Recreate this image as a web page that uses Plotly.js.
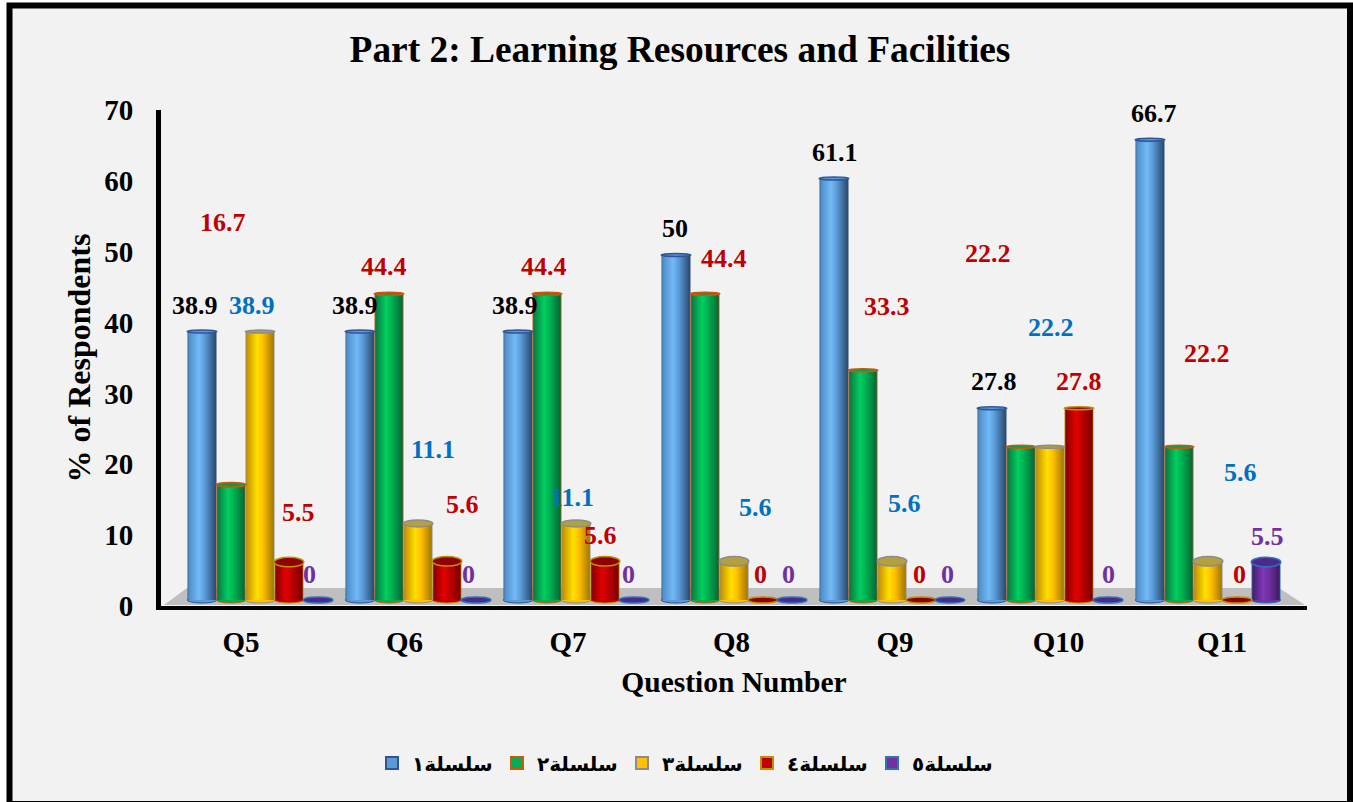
<!DOCTYPE html>
<html><head><meta charset="utf-8">
<script src="https://cdn.plot.ly/plotly-3.0.1.min.js"></script>
<style>html,body{margin:0;padding:0;background:#fff;overflow:hidden}#chart{width:1353px;height:802px}</style>
</head><body><div id="chart"></div>
<script>
// ---------- data ----------
const questions = ['Q5','Q6','Q7','Q8','Q9','Q10','Q11'];
const seriesNames = ['سلسلة١','سلسلة٢','سلسلة٣','سلسلة٤','سلسلة٥'];
const series1 = [38.9,38.9,38.9,50,61.1,27.8,66.7];
const series2 = [16.7,44.4,44.4,44.4,33.3,22.2,22.2];
const series3 = [38.9,11.1,11.1,5.6,5.6,22.2,5.6];
const series4 = [5.5,5.6,5.6,0,0,27.8,0];
const series5 = [0,0,0,0,0,0,5.5];
const yTicks = [0,10,20,30,40,50,60,70];
// hand-placed data-label centres as they sit in the picture (pixels)
const labelX1 = [195,355,515,675,835,994,1154], labelY1 = [305,305,305,228,152,381,113];
const labelX2 = [223,384,544,724,887,988,1207], labelY2 = [222,266,266,258,306,254,353];
const labelX3 = [252,433,572,755,904,1051,1240], labelY3 = [305,449,497,507,503,327,472];
const labelX4 = [298,462,600,760,919,1079,1239], labelY4 = [512,504,535,574,574,381,574];
const labelX5 = [309,468,628,788,947,1108,1267], labelY5 = [574,574,574,574,574,574,536];

// ---------- style ----------
const W=1353,H=802,L=161,R=1307,T=110,B=606;
const serif='"Liberation Serif","Times New Roman",serif';
const allSeries=[series1,series2,series3,series4,series5];
const labelXs=[labelX1,labelX2,labelX3,labelX4,labelX5], labelYs=[labelY1,labelY2,labelY3,labelY4,labelY5];
const labelColors=['#000000','#c00000','#0070c0','#c00000','#7030a0'];
const fills=['#5b9bd5','#00b050','#ffc000','#c00000','#7030a0'];
const borders=['#2f5597','#c55a11','#8c8c8c','#bf9000','#2e75b6'];
const capFills=['#5b9bd5','#00a04a','#b3a040','#8f0000','#4a2a90'];
const gradients=[
 ['#2f5f90','#4f8fc8','#72baf8','#5a9ad6','#2c5077','#2a4a70'],
 ['#c55a11','#0a7a40','#00d060','#00b050','#056b38','#c55a11'],
 ['#8c8c8c','#c79200','#ffe000','#ffc000','#a87c00','#8c8c8c'],
 ['#bf9000','#8a0000','#e60000','#c00000','#7c0000','#bf9000'],
 ['#2e75b6','#44206e','#8038b8','#7030a0','#3f1c66','#2e75b6']];
const stopAt=[0,0.05,0.4,0.6,0.95,1];
const GROUP=0.918, PITCH=GROUP/5, PXU=6.9;
const px=x=>(x-L)/(R-L), py=y=>(B-y)/(B-T);

// ---------- traces ----------
const traces=[{x:questions,y:questions.map(()=>0),type:'scatter',mode:'markers',
  marker:{opacity:0},showlegend:false,hoverinfo:'skip',xaxis:'x',yaxis:'y'}];
allSeries.forEach((vals,s)=>traces.push({type:'bar',name:seriesNames[s],x:questions,y:vals,
  xaxis:'x2',yaxis:'y2',marker:{color:fills[s],line:{color:borders[s],width:2}}}));

// ---------- shapes ----------
const shapes=[
 {type:'rect',xref:'paper',yref:'paper',x0:px(9.5),x1:px(1350),y0:py(804),y1:py(5.5),
  fillcolor:'#f2f2f2',line:{color:'#000',width:6},layer:'below'},
 {type:'path',xref:'paper',yref:'paper',layer:'below',fillcolor:'#bfbfbf',line:{width:0},
  path:`M ${px(164)} ${py(605)} L ${px(187)} ${py(588)} L ${px(1279)} ${py(588)} L ${px(1305)} ${py(605)} Z`}
];
const capHeight=v=>v===0?6:Math.max(3,12-0.45*v);
allSeries.forEach((vals,s)=>vals.forEach((v,i)=>{
  const c=i+(s-2)*PITCH, hw=PITCH/2*1.02;
  if(v>0) shapes.push({type:'circle',xref:'x2',yref:'y2',layer:'below',x0:c-hw,x1:c+hw,
     y0:-3/PXU,y1:3/PXU,fillcolor:fills[s],line:{color:borders[s],width:1}});
  const h=capHeight(v)/2/PXU;
  shapes.push({type:'circle',xref:'x2',yref:'y2',layer:'above',x0:c-hw,x1:c+hw,y0:v-h,y1:v+h,
     fillcolor:capFills[s],line:{color:borders[s],width:1.5}});
}));

// ---------- labels ----------
const annotations=[];
allSeries.forEach((vals,s)=>vals.forEach((v,i)=>annotations.push({
  xref:'paper',yref:'paper',x:px(labelXs[s][i]),y:py(labelYs[s][i]),xanchor:'center',yanchor:'middle',
  text:String(v),showarrow:false,font:{family:serif,size:26,color:labelColors[s],weight:'bold'}})));

const tickFont={family:serif,size:29,color:'#000',weight:'bold'};
const layout={
 width:W,height:H,margin:{l:L,r:W-R,t:T,b:H-B,pad:0},
 paper_bgcolor:'#ffffff',plot_bgcolor:'rgba(0,0,0,0)',
 title:{text:'Part 2: Learning Resources and Facilities',x:680/W,xanchor:'center',y:1-49/H,yanchor:'middle',
   font:{family:serif,size:37.4,color:'#000',weight:'bold'}},
 barmode:'group',bargap:1-GROUP,bargroupgap:0,
 xaxis:{type:'category',categoryorder:'array',categoryarray:questions,range:[-0.489,6.52],
   showline:true,linecolor:'#000',linewidth:4,showgrid:false,zeroline:false,
   ticks:'outside',ticklen:7,tickcolor:'rgba(0,0,0,0)',tickfont:tickFont,
   title:{text:'Question Number',standoff:16,font:{family:serif,size:29.5,color:'#000',weight:'bold'}}},
 yaxis:{range:[0,70],tickvals:yTicks,showline:true,linecolor:'#000',linewidth:5,showgrid:false,zeroline:false,
   ticks:'outside',ticklen:17,tickcolor:'rgba(0,0,0,0)',tickfont:tickFont,
   title:{text:'% of Respondents',standoff:6,font:{family:serif,size:32,color:'#000',weight:'bold'}}},
 xaxis2:{type:'category',categoryorder:'array',categoryarray:questions,overlaying:'x',anchor:'y2',
   range:[(L-260)/158,(R-260)/158],visible:false},
 yaxis2:{overlaying:'y',anchor:'x2',range:[(600-B)/PXU,(600-T)/PXU],visible:false},
 legend:{orientation:'h',x:px(372),y:py(763),xanchor:'left',yanchor:'middle',bgcolor:'rgba(0,0,0,0)',
   entrywidth:80,entrywidthmode:'pixels',traceorder:'normal',
   font:{family:'"DejaVu Sans",'+serif,size:20,color:'#000',weight:'bold'}},
 shapes,annotations,showlegend:true
};
Plotly.newPlot('chart',traces,layout,{displayModeBar:false,staticPlot:true}).then(gd=>{
  const svg=gd.querySelector('svg.main-svg');
  const NS='http://www.w3.org/2000/svg';
  const defs=svg.querySelector('defs')||svg.insertBefore(document.createElementNS(NS,'defs'),svg.firstChild);
  gradients.forEach((stops,k)=>{
    const g=document.createElementNS(NS,'linearGradient');
    g.setAttribute('id','cyl'+k);
    stopAt.forEach((o,j)=>{
      const st=document.createElementNS(NS,'stop');
      st.setAttribute('offset',o);st.setAttribute('stop-color',stops[j]);g.appendChild(st);});
    defs.appendChild(g);
  });
  gd.querySelectorAll('.barlayer .trace.bars').forEach((t,k)=>{
    t.querySelectorAll('.point path').forEach(p=>{
      p.style.setProperty('fill','url(#cyl'+k+')');
      p.style.setProperty('stroke-width','0');
    });
  });
});
</script></body></html>
